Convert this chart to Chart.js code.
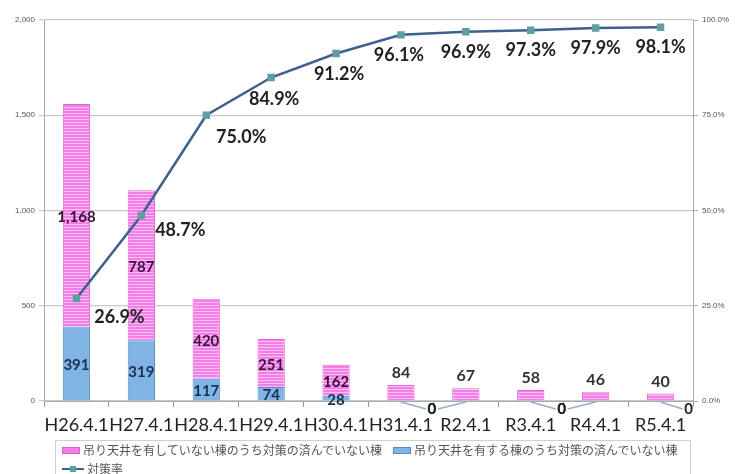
<!DOCTYPE html>
<html>
<head>
<meta charset="utf-8">
<script src="https://cdn.jsdelivr.net/npm/chart.js@4.4.0/dist/chart.umd.min.js"></script>
<style>
  html,body{margin:0;padding:0;background:#fff;}
  #wrap{position:relative;width:736px;height:474px;overflow:hidden;}
  #legend{position:absolute;left:55px;top:440px;width:636px;height:60px;border:1px solid #d0d0d0;box-sizing:border-box;
    font-family:"Noto Sans CJK JP",sans-serif;font-size:12px;color:#555;}
  .item{position:absolute;display:flex;align-items:center;white-space:nowrap;line-height:14px;}
  .sw{display:inline-block;width:18px;height:7px;margin-right:3px;box-sizing:border-box;}
</style>
</head>
<body>
<div id="wrap">
  <canvas id="c" width="736" height="474"></canvas>
  <div id="legend">
    <div class="item" style="left:6px;top:2px;"><span class="sw" style="background:#f47ee8;border:1px solid #d860c8;"></span>吊り天井を有していない棟のうち対策の済んでいない棟</div>
    <div class="item" style="left:337px;top:2px;"><span class="sw" style="background:#7fb4e4;border:1px solid #5a8cc4;"></span>吊り天井を有する棟のうち対策の済んでいない棟</div>
    <div class="item" style="left:6px;top:21px;"><svg width="22" height="8" style="margin-right:3px"><line x1="0" y1="4" x2="22" y2="4" stroke="#3f5f8f" stroke-width="2"/><rect x="8" y="1" width="6" height="6" fill="#5f9f9c"/></svg>対策率</div>
  </div>
</div>
<script>
// 年度（4月1日時点）
const labels = ["H26.4.1","H27.4.1","H28.4.1","H29.4.1","H30.4.1","H31.4.1","R2.4.1","R3.4.1","R4.4.1","R5.4.1"];
// 吊り天井を有する棟のうち対策の済んでいない棟
const withCeiling = [391, 319, 117, 74, 28, 0, 0, 0, 0, 0];
// 吊り天井を有していない棟のうち対策の済んでいない棟
const withoutCeiling = [1168, 787, 420, 251, 162, 84, 67, 58, 46, 40];
// 対策率（%）
const rate = [26.9, 48.7, 75.0, 84.9, 91.2, 96.1, 96.9, 97.3, 97.9, 98.1];

// 対策率ラベルの位置ずらし
const rateOffset = [[43,19],[39,15],[35,22],[3,22],[3,21],[-2,20],[0,20],[0,20],[0,20],[0,20]];
// 0 のラベルは左右に寄せて引き出し線を付ける
const zeroSide = {5:31, 6:-34, 7:31, 8:-34, 9:28};

function stripes(){
  const p = document.createElement("canvas");
  p.width = 4; p.height = 3;
  const g = p.getContext("2d");
  g.fillStyle = "#f47ee8"; g.fillRect(0,0,4,3);
  g.fillStyle = "#fbc0f4"; g.fillRect(0,2,4,1);
  return g.createPattern(p, "repeat");
}

const labelPlugin = {
  id: "labels",
  afterDatasetsDraw(chart){
    const ctx = chart.ctx;
    const blue = chart.getDatasetMeta(1).data;
    const pink = chart.getDatasetMeta(2).data;
    const line = chart.getDatasetMeta(0).data;
    const base = chart.scales.y.getPixelForValue(0);
    ctx.save();
    ctx.textAlign = "center";
    ctx.textBaseline = "middle";
    labels.forEach((_, i) => {
      // 下段（青）
      const b = blue[i];
      if (withCeiling[i] > 0) {
        ctx.font = "bold 15px Lato";
        ctx.fillStyle = "#1c2f52";
        ctx.fillText(withCeiling[i], b.x, (b.y + b.base) / 2 + 2);
      } else {
        const dx = zeroSide[i];
        const lx = b.x + dx, ly = base + 8;
        ctx.strokeStyle = "#8fb0cf";
        ctx.lineWidth = 1.5;
        ctx.beginPath();
        ctx.moveTo(b.x, base + 1);
        ctx.lineTo(lx - Math.sign(dx) * 6, ly);
        ctx.stroke();
        ctx.font = "bold 15px Lato";
        ctx.fillStyle = "#222";
        ctx.fillText("0", lx, ly);
      }
      // 上段（ピンク）
      const p = pink[i];
      const txt = withoutCeiling[i].toLocaleString("en-US");
      if (withCeiling[i] > 0) {
        ctx.font = "bold 15px Lato";
        ctx.fillStyle = "#3a1238";
        ctx.fillText(txt, p.x, (p.y + p.base) / 2 + 2);
      } else {
        ctx.font = "bold 16px Lato";
        ctx.fillStyle = "#333";
        ctx.fillText(txt, p.x, p.y - 12);
      }
      // 対策率
      const pt = line[i];
      ctx.font = "bold 18px Lato";
      ctx.fillStyle = "#222";
      ctx.fillText(rate[i].toFixed(1) + "%", pt.x + rateOffset[i][0], pt.y + rateOffset[i][1]);
    });
    ctx.restore();
  }
};

new Chart(document.getElementById("c"), {
  data: {
    labels: labels,
    datasets: [
      {
        type: "line", label: "対策率", data: rate, yAxisID: "y1", order: 0,
        borderColor: "#3f5f8f", borderWidth: 2.5, tension: 0,
        pointStyle: "rect", pointRadius: 3.5, pointBackgroundColor: "#5f9f9c", pointBorderColor: "#5f9f9c"
      },
      {
        type: "bar", label: "吊り天井を有する棟のうち対策の済んでいない棟", data: withCeiling, yAxisID: "y", order: 1,
        backgroundColor: "#7fb4e4", borderColor: "#5a8cc4", borderWidth: 1,
        categoryPercentage: 1, barPercentage: 0.42
      },
      {
        type: "bar", label: "吊り天井を有していない棟のうち対策の済んでいない棟", data: withoutCeiling, yAxisID: "y", order: 1,
        backgroundColor: stripes(), borderColor: "#e068d4", borderWidth: 1,
        categoryPercentage: 1, barPercentage: 0.42
      }
    ]
  },
  options: {
    responsive: false,
    animation: false,
    devicePixelRatio: 1,
    layout: { padding: { top: 20, left: 0, right: 0, bottom: 0 } },
    plugins: { legend: { display: false }, tooltip: { enabled: false } },
    scales: {
      x: {
        stacked: true,
        grid: { drawOnChartArea: false, tickLength: 6, color: "#999" },
        border: { color: "#aaa" },
        ticks: { font: { family: "Lato", size: 18 }, color: "#222", padding: 7, maxRotation: 0, autoSkip: false },
        afterFit(s){ s.height = 73; }
      },
      y: {
        stacked: true, min: 0, max: 2000,
        ticks: { stepSize: 500, font: { family: "Liberation Sans", size: 8 }, color: "#555", padding: 4,
          callback: v => v.toLocaleString("en-US") },
        grid: { color: "#c8c8c8", tickLength: 5, lineWidth: 1.2 },
        border: { color: "#aaa" },
        afterFit(s){ s.width = 44; }
      },
      y1: {
        position: "right", min: 0, max: 100,
        ticks: { stepSize: 25, font: { family: "Liberation Sans", size: 8 }, color: "#555", padding: 4,
          callback: v => v.toFixed(1) + "%" },
        grid: { drawOnChartArea: false, tickLength: 5, color: "#aaa" },
        border: { color: "#aaa" },
        afterFit(s){ s.width = 43; }
      }
    }
  },
  plugins: [labelPlugin]
});
</script>
</body>
</html>
